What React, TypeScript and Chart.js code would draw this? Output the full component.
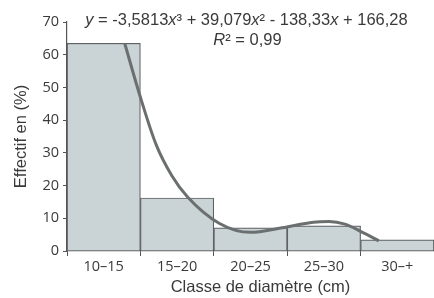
import React, { useEffect, useRef } from "react";
import { Chart, registerables } from "chart.js";

Chart.register(...registerables);

const categories = ["10–15", "15–20", "20–25", "25–30", "30–+"];
const effectif = [63.5, 16.2, 7.1, 7.7, 3.4];
// trend curve, at positions along the class axis (1 = first class)
const trendX = [1, 1.25, 1.5, 1.75, 2, 2.5, 3, 3.5, 4, 4.25, 4.5, 4.75, 5.04];
const trendY = [63.5, 47, 32.5, 23, 16.5, 8.5, 5.7, 7.1, 8.8, 9.0, 8.2, 6.0, 3.1];
const yTicks = [0, 10, 20, 30, 40, 50, 60, 70];
const equationParts: [string, boolean][] = [
  ["y", true],
  [" = -3,5813", false],
  ["x", true],
  ["³ + 39,079", false],
  ["x", true],
  ["² - 138,33", false],
  ["x", true],
  [" + 166,28", false],
];
const r2Text = "R² = 0,99";
const xTitle = "Classe de diamètre (cm)";

const FONT = "'Liberation Sans', Arial, sans-serif";
const TICK_FONT = "'Open Sans', 'Noto Sans', sans-serif";
const TEXT = "#3a3a3a";
const AXIS = "#555";

const equationPlugin = {
  id: "equation",
  afterDraw(chart: any) {
    const { ctx, chartArea } = chart;
    ctx.save();
    ctx.fillStyle = TEXT;
    ctx.textBaseline = "middle";
    ctx.textAlign = "left";
    const normal = `16.5px ${FONT}`;
    const italic = `italic 16.5px ${FONT}`;
    let total = 0;
    for (const [t, it] of equationParts) {
      ctx.font = it ? italic : normal;
      total += ctx.measureText(t).width;
    }
    const cx = (chartArea.left + chartArea.right) / 2 - 4;
    let x = cx - total / 2;
    const y1 = chartArea.top - 2;
    for (const [t, it] of equationParts) {
      ctx.font = it ? italic : normal;
      ctx.fillText(t, x, y1);
      x += ctx.measureText(t).width;
    }
    ctx.font = italic;
    const rW = ctx.measureText("R").width;
    ctx.font = normal;
    const restW = ctx.measureText(r2Text.slice(1)).width;
    const rx = cx + 1 - (rW + restW) / 2;
    const y2 = chartArea.top + 18;
    ctx.font = italic;
    ctx.fillText("R", rx, y2);
    ctx.font = normal;
    ctx.fillText(r2Text.slice(1), rx + rW, y2);

    ctx.textAlign = "center";
    ctx.font = normal;
    ctx.fillText(xTitle, (chartArea.left + chartArea.right) / 2 + 10, chartArea.bottom + 36);
    ctx.restore();
  },
};

export default function App() {
  const ref = useRef<HTMLCanvasElement>(null);
  useEffect(() => {
    document.body.style.margin = "0";
    const chart = new Chart(ref.current!, {
      type: "bar",
      data: {
        labels: categories,
        datasets: [
          {
            type: "line",
            xAxisID: "x2",
            yAxisID: "y",
            data: trendX.map((x, i) => ({ x, y: trendY[i] })),
            borderColor: "#6b6f6f",
            borderWidth: 3,
            pointRadius: 0,
            cubicInterpolationMode: "monotone",
            fill: false,
            order: 0,
          } as any,
          {
            type: "bar",
            xAxisID: "x",
            yAxisID: "y",
            data: effectif,
            backgroundColor: "#cad3d6",
            borderColor: "#5e6263",
            borderWidth: 1.2,
            barPercentage: 1,
            categoryPercentage: 1,
            grouped: false,
            order: 1,
          } as any,
        ],
      },
      options: {
        animation: false,
        responsive: false,
        maintainAspectRatio: false,
        layout: { padding: { top: 22, right: 0, left: 0, bottom: 0 } },
        plugins: {
          legend: { display: false },
          tooltip: { enabled: false },
        },
        scales: {
          x: {
            type: "category",
            offset: true,
            grid: {
              offset: true,
              drawOnChartArea: false,
              drawTicks: true,
              tickLength: 5,
              color: AXIS,
            },
            border: { display: true, color: AXIS, width: 1.2 },
            ticks: {
              color: TEXT,
              font: { family: TICK_FONT, size: 14.5 },
              padding: 2,
              maxRotation: 0,
            },
            afterFit: (s: any) => {
              s.height = 47;
            },
          },
          x2: {
            type: "linear",
            position: "bottom",
            min: 0.5,
            max: 5.5,
            display: false,
          },
          y: {
            min: 0,
            max: 70,
            afterBuildTicks: (s: any) => {
              s.ticks = yTicks.map((v) => ({ value: v }));
            },
            grid: {
              drawOnChartArea: false,
              drawTicks: true,
              tickLength: 4,
              color: AXIS,
            },
            border: { display: true, color: AXIS, width: 1.2 },
            ticks: {
              color: TEXT,
              font: { family: TICK_FONT, size: 14.5 },
              padding: 4,
            },
            title: {
              display: true,
              text: "Effectif en (%)",
              color: TEXT,
              font: { family: FONT, size: 16.5 },
              padding: { top: 12, bottom: 0 },
            },
            afterFit: (s: any) => {
              s.width = 67;
            },
          },
        },
      },
      plugins: [equationPlugin],
    });
    return () => chart.destroy();
  }, []);
  return (
    <div style={{ position: "absolute", left: 0, top: 0, width: 434, height: 298, background: "#fff" }}>
      <canvas ref={ref} width={434} height={298} />
    </div>
  );
}
